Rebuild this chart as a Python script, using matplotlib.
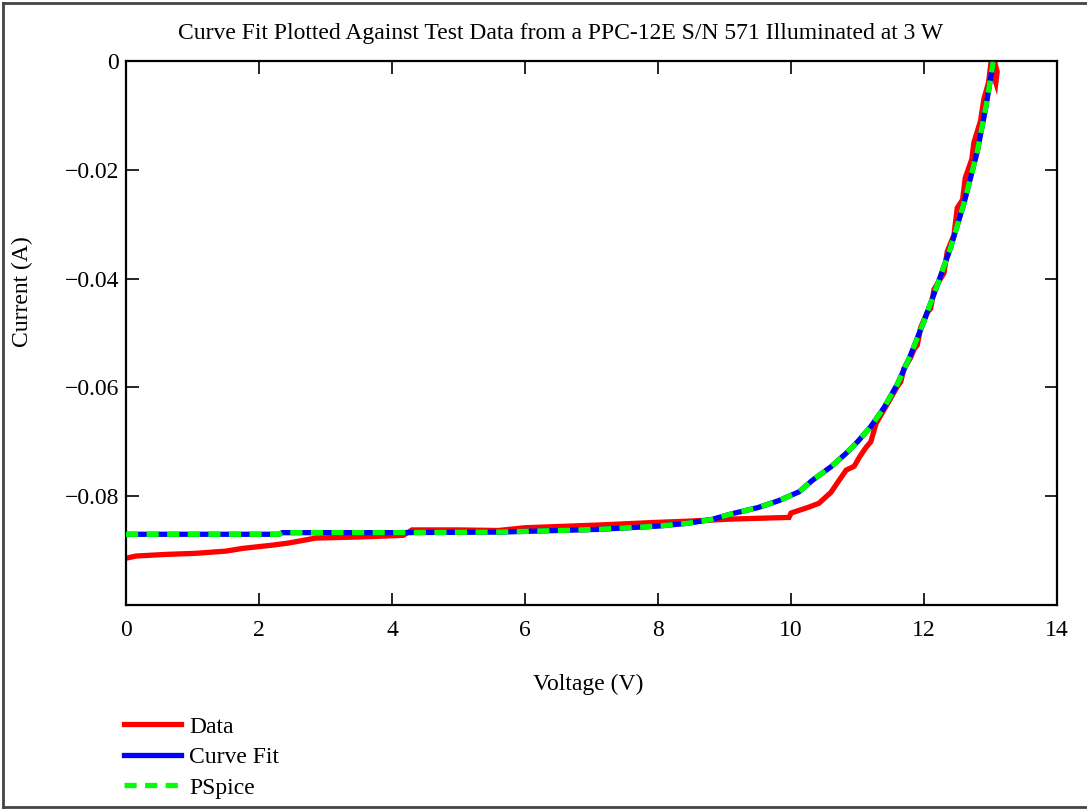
import matplotlib
matplotlib.use("Agg")
import matplotlib.pyplot as plt
from matplotlib.lines import Line2D

# ---------------- data ----------------
data_voltage = [0.00, 0.15, 0.60, 1.05, 1.50, 1.75, 2.20, 2.45, 2.85, 3.50,
                4.17, 4.30, 5.00, 5.60, 6.00, 7.10, 8.00, 8.43, 9.12, 9.97,
                10.00, 10.27, 10.42, 10.60, 10.70, 10.83, 10.95, 11.03, 11.13,
                11.20, 11.28, 11.48, 11.60, 11.65, 11.70, 11.80, 11.85, 11.90,
                11.95, 12.05, 12.10, 12.15, 12.25, 12.30, 12.35, 12.45, 12.50,
                12.58, 12.62, 12.72, 12.75, 12.85, 12.90, 12.97, 13.00, 13.08,
                13.10, 13.06]
data_current = [-0.0914, -0.0910, -0.0907, -0.0905, -0.0901, -0.0896, -0.0890,
                -0.0886, -0.0877, -0.0875, -0.0872, -0.0862, -0.0862, -0.0863,
                -0.0858, -0.0853, -0.0848, -0.0846, -0.0842, -0.0839, -0.0831,
                -0.0820, -0.0813, -0.0793, -0.0775, -0.0752, -0.0745, -0.0728,
                -0.0710, -0.0700, -0.0666, -0.0624, -0.0598, -0.0590, -0.0565,
                -0.0545, -0.0530, -0.0522, -0.0490, -0.0462, -0.0455, -0.0420,
                -0.0400, -0.0390, -0.0350, -0.0320, -0.0270, -0.0255, -0.0215,
                -0.0180, -0.0150, -0.0110, -0.0070, -0.0040, -0.0010, -0.0040,
                -0.0020, -0.0000]

fit_voltage = [0.00, 2.30, 2.35, 4.00, 5.60, 7.10, 8.00, 8.43, 8.80, 9.12,
               9.50, 9.82, 10.12, 10.32, 10.60, 10.83, 11.00, 11.20, 11.40,
               11.60, 11.80, 12.00, 12.20, 12.40, 12.60, 12.80, 12.93, 13.04]
fit_current = [-0.0870, -0.0870, -0.0867, -0.0867, -0.0866, -0.0861, -0.0855,
               -0.0850, -0.0843, -0.0832, -0.0821, -0.0808, -0.0792, -0.0771,
               -0.0746, -0.0721, -0.0700, -0.0672, -0.0637, -0.0594, -0.0540,
               -0.0478, -0.0412, -0.0343, -0.0262, -0.0167, -0.0085, -0.0002]

pspice_voltage = [0.00, 2.30, 2.35, 4.00, 5.60, 7.10, 8.00, 8.43, 8.80, 9.12,
                  9.50, 9.82, 10.12, 10.32, 10.60, 10.83, 11.00, 11.20, 11.40,
                  11.60, 11.80, 12.00, 12.20, 12.40, 12.60, 12.80, 12.93, 13.04]
pspice_current = [-0.0870, -0.0870, -0.0867, -0.0867, -0.0866, -0.0861, -0.0855,
                  -0.0850, -0.0843, -0.0832, -0.0821, -0.0808, -0.0792, -0.0771,
                  -0.0746, -0.0721, -0.0700, -0.0672, -0.0637, -0.0594, -0.0540,
                  -0.0478, -0.0412, -0.0343, -0.0262, -0.0167, -0.0085, -0.0002]

x_ticks = [0, 2, 4, 6, 8, 10, 12, 14]
y_ticks = [0, -0.02, -0.04, -0.06, -0.08]
y_tick_labels = ["0", "\u22120.02", "\u22120.04", "\u22120.06", "\u22120.08"]
series_labels = ["Data", "Curve Fit", "PSpice"]
title_text = "Curve Fit Plotted Against Test Data from a PPC-12E S/N 571 Illuminated at 3 W"

# ---------------- style ----------------
plt.rcParams['font.family'] = ['Liberation Serif', 'DejaVu Serif']
FS = 17

fig = plt.figure(figsize=(10.87, 8.10), dpi=100)
W, H = 1087, 810
ax = fig.add_axes([126 / W, 1 - 605 / H, (1057 - 126) / W, (605 - 61) / H])

lw = 3.8
ax.plot(data_voltage, data_current, color='#ff0000', lw=lw, solid_joinstyle='miter',
        label=series_labels[0], zorder=2)
ax.plot(fit_voltage, fit_current, color='#0000ff', lw=lw, label=series_labels[1], zorder=3)
ax.plot(pspice_voltage, pspice_current, color='#00ff00', lw=lw, linestyle=(0, (2.3, 1.6)),
        dash_capstyle='butt', label=series_labels[2], zorder=4)

ax.set_xlim(0, 14)
ax.set_ylim(-0.1, 0)
ax.set_xticks(x_ticks)
ax.set_xticklabels([str(t) for t in x_ticks])
ax.set_yticks(y_ticks)
ax.set_yticklabels(y_tick_labels)
ax.tick_params(direction='in', length=9, width=1.2, top=True, right=True,
               labelsize=FS, colors='black')
ax.tick_params(axis='x', pad=11)
ax.tick_params(axis='y', pad=5)
for s in ax.spines.values():
    s.set_linewidth(1.6)

ax.set_xlabel("Voltage (V)", fontsize=FS)
ax.xaxis.set_label_coords((588 - 126) / 931, -(674 - 605) / 544)
ax.set_ylabel("Current (A)", fontsize=FS)
ax.yaxis.set_label_coords((33 - 126) / 931, (605 - 292) / 544)

fig.text(561 / W, 1 - 33 / H, title_text, ha='center', va='center', fontsize=FS)

fig.legend(loc='upper left', bbox_to_anchor=(124 / W, 1 - 716 / H), frameon=False,
           fontsize=FS, handlelength=2.4, handletextpad=0.35, labelspacing=0.38,
           borderpad=0, borderaxespad=0)

# outer frame
fig.add_artist(Line2D([3 / W, 3 / W], [3 / H, 1 - 3 / H], transform=fig.transFigure,
                      color='#444444', lw=2))
fig.add_artist(Line2D([3 / W, 1], [1 - 3 / H, 1 - 3 / H], transform=fig.transFigure,
                      color='#444444', lw=2))
fig.add_artist(Line2D([3 / W, 1], [3 / H, 3 / H], transform=fig.transFigure,
                      color='#444444', lw=2))

fig.savefig("out.png", dpi=100)
